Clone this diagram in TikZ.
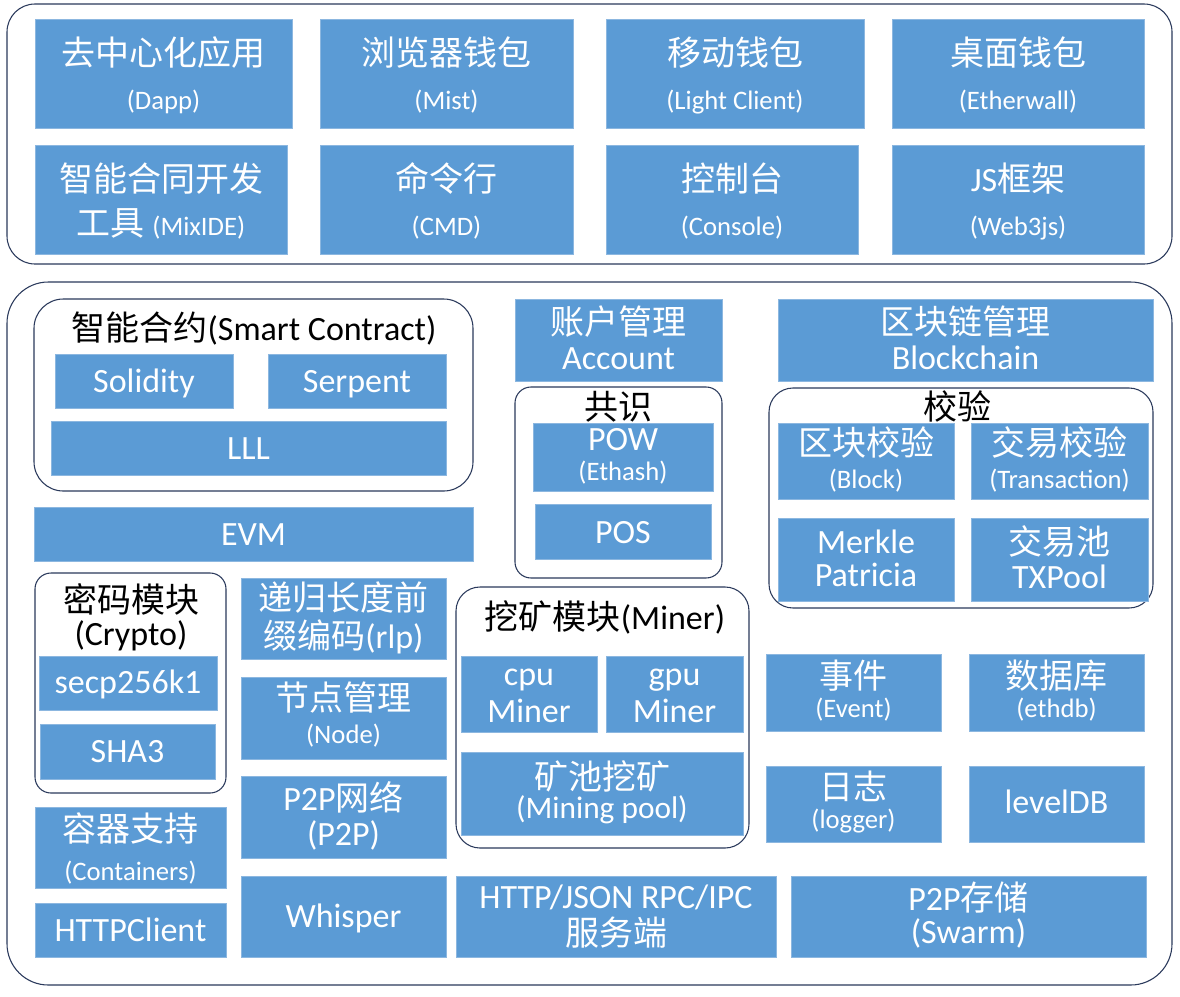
\documentclass[tikz,border=0pt]{standalone}
\usepackage{fontspec}
\setmainfont{Carlito}
\newfontfamily\cjk{Noto Sans CJK SC}
\usetikzlibrary{shadows}
\definecolor{boxblue}{HTML}{5B9BD5}
\definecolor{boxedge}{HTML}{8CB7E0}
\definecolor{navy}{HTML}{2B3A5C}
\newcommand\Z[1]{{\cjk #1}}
\newcommand\Lf{\fontsize{25.5pt}{30pt}\selectfont}
\newcommand\Sf{\fontsize{20pt}{24pt}\selectfont}
\newcommand\Mf{\fontsize{23.5pt}{28pt}\selectfont}
\tikzset{
  blk/.style={rectangle, fill=boxblue, draw=boxedge, line width=0.5pt, inner sep=0pt,
    drop shadow={shadow xshift=0.5pt, shadow yshift=-0.9pt, opacity=0.18}},
  grp/.style={rectangle, draw=navy, line width=0.8pt, inner sep=0pt, rounded corners=#1},
  wt/.style={text=white, anchor=base, inner sep=0pt},
  bt/.style={text=black, anchor=base, inner sep=0pt},
  L/.style={font=\Lf},
  S/.style={font=\Sf},
  M/.style={font=\Mf},
}
% \bx[style]{name}{x1}{y1}{x2}{y2}
\newcommand\bx[6][blk]{\node[#1, minimum width={(#5-#3)*0.75pt}, minimum height={(#6-#4)*0.75pt}] (#2) at ({(#3+#5)/2},{(#4+#6)/2}) {};}
% \tline[style]{name}{box}{baseline}{text}
\newcommand\tline[5][wt,L]{\node[#1] (#2) at (#3.center |- 0,#4) {#5};}
\begin{document}
\begin{tikzpicture}[x=0.75pt,y=-0.75pt]
\fill[white] (0,0) rectangle (1180,996);
\useasboundingbox (0,0) rectangle (1180,996);

% containers
\bx[grp=21pt]{top}{7}{4}{1172}{264}
\bx[grp=31pt]{bot}{7}{282}{1172}{985}
\bx[grp=22pt]{gsc}{34}{299}{473}{491}
\bx[grp=12pt]{gcons}{515}{387}{722}{578}
\bx[grp=18pt]{gver}{769}{388}{1153}{608}
\bx[grp=12pt]{gcry}{35}{573}{226}{793}
\bx[grp=18pt]{gmin}{456}{587}{749}{848}

% top layer
\bx{t1}{35}{19}{292}{128}
\bx{t2}{320}{19}{573}{128}
\bx{t3}{606}{19}{864}{128}
\bx{t4}{892}{19}{1144}{128}
\bx{t5}{35}{145}{287}{254}
\bx{t6}{320}{145}{573}{254}
\bx{t7}{606}{145}{858}{254}
\bx{t8}{892}{145}{1144}{254}
\tline{t1a}{t1}{65}{\Z{去中心化应用}}
\tline[wt,S]{t1b}{t1}{109}{(Dapp)}
\tline{t2a}{t2}{65}{\Z{浏览器钱包}}
\tline[wt,S]{t2b}{t2}{109}{(Mist)}
\tline{t3a}{t3}{65}{\Z{移动钱包}}
\tline[wt,S]{t3b}{t3}{109}{(Light Client)}
\tline{t4a}{t4}{65}{\Z{桌面钱包}}
\tline[wt,S]{t4b}{t4}{109}{(Etherwall)}
\tline{t5a}{t5}{191}{\Z{智能合同开发}}
\tline{t5b}{t5}{235}{\Z{工具} {\Sf(MixIDE)}}
\tline{t6a}{t6}{191}{\Z{命令行}}
\tline[wt,S]{t6b}{t6}{235}{(CMD)}
\tline{t7a}{t7}{191}{\Z{控制台}}
\tline[wt,S]{t7b}{t7}{235}{(Console)}
\tline{t8a}{t8}{191}{JS\Z{框架}}
\tline[wt,S]{t8b}{t8}{235}{(Web3js)}

% smart contract
\node[bt,L] (gsct) at (254,340) {\Z{智能合约}(Smart Contract)};
\bx{sol}{55}{354}{233}{408}
\bx{ser}{268}{354}{446}{408}
\bx{lll}{51}{421}{446}{475}
\bx{evm}{34}{507}{473}{561}
\tline{sola}{sol}{392}{Solidity}
\tline{sera}{ser}{392}{Serpent}
\tline{llla}{lll}{459}{LLL}
\tline{evma}{evm}{545}{EVM}

% account / blockchain
\bx{acc}{515}{299}{722}{381}
\bx{bc}{778}{299}{1153}{381}
\tline{acca}{acc}{334}{\Z{账户管理}}
\tline{accb}{acc}{369}{Account}
\tline{bca}{bc}{334}{\Z{区块链管理}}
\tline{bcb}{bc}{369}{Blockchain}

% consensus
\node[bt,L] (gconst) at (618,419) {\Z{共识}};
\bx{pow}{533}{423}{713}{491}
\bx{pos}{535}{504}{711}{559}
\tline{powa}{pow}{450}{POW}
\tline[wt,S]{powb}{pow}{480}{(Ethash)}
\tline{posa}{pos}{543}{POS}

% verification
\node[bt,L] (gvert) at (957,419) {\Z{校验}};
\bx{blk}{778}{423}{954}{499}
\bx{txv}{971}{423}{1148}{499}
\bx{mp}{778}{518}{954}{601}
\bx{txp}{971}{518}{1148}{601}
\tline{blka}{blk}{455}{\Z{区块校验}}
\tline[wt,S]{blkb}{blk}{488}{(Block)}
\tline{txva}{txv}{455}{\Z{交易校验}}
\tline[wt,S]{txvb}{txv}{488}{(Transaction)}
\tline{mpa}{mp}{553}{Merkle}
\tline{mpb}{mp}{586}{Patricia}
\tline{txpa}{txp}{554}{\Z{交易池}}
\tline{txpb}{txp}{588}{TXPool}

% crypto
\node[bt,L] (gcryt) at (131,612) {\Z{密码模块}};
\node[bt,L] (gcryu) at (131,645) {(Crypto)};
\bx{secp}{39}{656}{217}{710}
\bx{sha}{40}{724}{215}{779}
\tline{secpa}{secp}{693}{secp256k1}
\tline{shaa}{sha}{762}{SHA3}

% middle column
\bx{rlp}{241}{578}{446}{659}
\bx{nod}{241}{677}{446}{759}
\bx{ptp}{241}{776}{446}{858}
\tline{rlpa}{rlp}{610}{\Z{递归长度前}}
\tline{rlpb}{rlp}{648}{\Z{缀编码}(rlp)}
\tline{noda}{nod}{710}{\Z{节点管理}}
\tline[wt,S]{nodb}{nod}{743}{(Node)}
\tline{ptpa}{ptp}{810}{P2P\Z{网络}}
\tline{ptpb}{ptp}{845}{(P2P)}

% miner
\node[bt,L] (gmint) at (605,629) {\Z{挖矿模块}(Miner)};
\bx{cpu}{461}{656}{597}{732}
\bx{gpu}{606}{656}{743}{732}
\bx{pool}{461}{752}{743}{835}
\tline{cpua}{cpu}{685}{cpu}
\tline{cpub}{cpu}{722}{Miner}
\tline{gpua}{gpu}{685}{gpu}
\tline{gpub}{gpu}{722}{Miner}
\tline{poola}{pool}{789}{\Z{矿池挖矿}}
\tline[wt,M]{poolb}{pool}{818}{(Mining pool)}

% events / db
\bx{evt}{766}{654}{941}{731}
\bx{db}{969}{654}{1144}{731}
\bx{lg}{766}{766}{941}{842}
\bx{ldb}{969}{766}{1144}{842}
\tline{evta}{evt}{688}{\Z{事件}}
\tline[wt,S]{evtb}{evt}{717}{(Event)}
\tline{dba}{db}{688}{\Z{数据库}}
\tline[wt,S]{dbb}{db}{717}{(ethdb)}
\tline{lga}{lg}{799}{\Z{日志}}
\tline[wt,S]{lgb}{lg}{828}{(logger)}
\tline{ldba}{ldb}{813}{levelDB}

% bottom row
\bx{ctn}{35}{807}{226}{888}
\bx{hc}{35}{903}{226}{957}
\bx{wh}{241}{876}{446}{957}
\bx{rpc}{456}{876}{776}{957}
\bx{swm}{791}{876}{1146}{957}
\tline{ctna}{ctn}{841}{\Z{容器支持}}
\tline[wt,S]{ctnb}{ctn}{880}{(Containers)}
\tline{hca}{hc}{941}{HTTPClient}
\tline{wha}{wh}{927}{Whisper}
\tline{rpca}{rpc}{908}{HTTP/JSON RPC/IPC}
\tline{rpcb}{rpc}{945}{\Z{服务端}}
\tline{swma}{swm}{910}{P2P\Z{存储}}
\tline{swmb}{swm}{943}{(Swarm)}
\end{tikzpicture}
\end{document}
